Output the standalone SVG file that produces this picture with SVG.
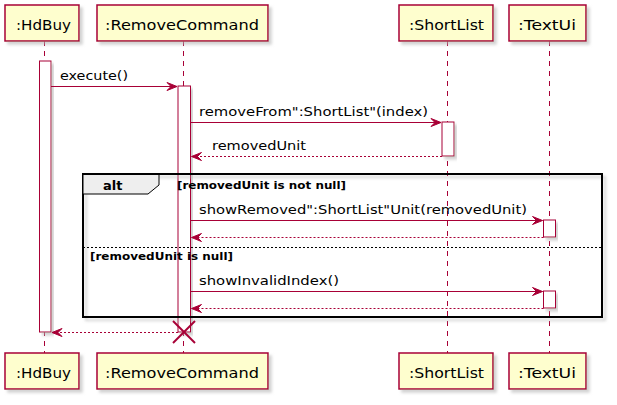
<svg xmlns="http://www.w3.org/2000/svg" width="617" height="405" viewBox="0 0 617 405">
<defs>
<filter id="sh" x="-10%" y="-10%" width="130%" height="140%">
<feGaussianBlur in="SourceAlpha" stdDeviation="1.8"/>
<feOffset dx="3" dy="3" result="b"/>
<feColorMatrix in="b" type="matrix" values="0 0 0 0 0.45  0 0 0 0 0.45  0 0 0 0 0.45  0 0 0 0.6 0" result="c"/>
<feMerge><feMergeNode in="c"/><feMergeNode in="SourceGraphic"/></feMerge>
</filter>
<marker id="ah" markerWidth="12" markerHeight="10" refX="10" refY="4" orient="auto" markerUnits="userSpaceOnUse" overflow="visible">
<polygon points="0,0 10,4 0,8 4,4" fill="#A80036" stroke="#A80036" stroke-width="1"/>
</marker>
</defs>
<style>
.box{fill:#FEFECE;stroke:#A80036;stroke-width:1.5;filter:url(#sh)}
.pt{font-family:"DejaVu Sans",sans-serif;font-size:14.5px;fill:#000}
.life{stroke:#A80036;stroke-width:1;stroke-dasharray:5,5}
.act{fill:#FFFFFF;stroke:#A80036;stroke-width:1;filter:url(#sh)}
.msg{stroke:#A80036;stroke-width:1;fill:none;marker-end:url(#ah)}
.ret{stroke:#A80036;stroke-width:1;fill:none;stroke-dasharray:2,2;marker-end:url(#ah)}
.mt{font-family:"DejaVu Sans",sans-serif;font-size:13px;fill:#000}
.gt{font-family:"DejaVu Sans",sans-serif;font-size:11px;font-weight:bold;fill:#000}
</style>
<g id="lifelines">
<line class="life" x1="44.5" y1="41" x2="44.5" y2="353"/>
<line class="life" x1="183.5" y1="41" x2="183.5" y2="353"/>
<line class="life" x1="447.5" y1="41" x2="447.5" y2="353"/>
<line class="life" x1="549.5" y1="41" x2="549.5" y2="353"/>
</g>
<g id="HdBuy">
<rect class="box" x="5" y="5" width="74" height="36"/>
<text class="pt" x="16" y="30" textLength="55" lengthAdjust="spacingAndGlyphs">:HdBuy</text>
<rect class="box" x="5" y="353" width="74" height="36"/>
<text class="pt" x="16" y="378" textLength="55" lengthAdjust="spacingAndGlyphs">:HdBuy</text>
<rect class="act" x="39.5" y="61" width="11.5" height="271"/>
</g>
<g id="RemoveCommand">
<rect class="box" x="97" y="5" width="171" height="36"/>
<text class="pt" x="105" y="30" textLength="154" lengthAdjust="spacingAndGlyphs">:RemoveCommand</text>
<rect class="box" x="97" y="353" width="171" height="36"/>
<text class="pt" x="105" y="378" textLength="154" lengthAdjust="spacingAndGlyphs">:RemoveCommand</text>
<rect class="act" x="178" y="86" width="12.5" height="246"/>
</g>
<g id="ShortList">
<rect class="box" x="399" y="5" width="94" height="36"/>
<text class="pt" x="409" y="30" textLength="75" lengthAdjust="spacingAndGlyphs">:ShortList</text>
<rect class="box" x="399" y="353" width="94" height="36"/>
<text class="pt" x="409" y="378" textLength="75" lengthAdjust="spacingAndGlyphs">:ShortList</text>
<rect class="act" x="442" y="122" width="12" height="34"/>
</g>
<g id="TextUi">
<rect class="box" x="509" y="5" width="77" height="36"/>
<text class="pt" x="518" y="30" textLength="58" lengthAdjust="spacingAndGlyphs">:TextUi</text>
<rect class="box" x="509" y="353" width="77" height="36"/>
<text class="pt" x="518" y="378" textLength="58" lengthAdjust="spacingAndGlyphs">:TextUi</text>
<rect class="act" x="543.5" y="220" width="12" height="17"/>
<rect class="act" x="543.5" y="291" width="12" height="17"/>
</g>
<g id="alt-frame">
<rect x="83" y="174" width="519" height="143" fill="none" stroke="#000" stroke-width="2" filter="url(#sh)"/>
<polygon points="83,174 159,174 159,185 148,194 83,194" fill="#EEEEEE" stroke="#000" stroke-width="1"/>
<rect x="83" y="173" width="519" height="2" fill="#000"/>
<text x="103" y="190" font-family="DejaVu Sans, sans-serif" font-size="13" font-weight="bold">alt</text>
<text class="gt" x="177" y="189" textLength="169" lengthAdjust="spacingAndGlyphs">[removedUnit is not null]</text>
<line x1="83" y1="247.5" x2="602" y2="247.5" stroke="#000" stroke-width="1" stroke-dasharray="2,2"/>
<text class="gt" x="90" y="260" textLength="143" lengthAdjust="spacingAndGlyphs">[removedUnit is null]</text>
</g>
<g id="connectors">
<line class="msg" x1="51" y1="86.5" x2="177" y2="86.5"/>
<text class="mt" x="60" y="80" textLength="68" lengthAdjust="spacingAndGlyphs">execute()</text>
<line class="msg" x1="190.5" y1="122.5" x2="441" y2="122.5"/>
<text class="mt" x="199" y="116" textLength="229" lengthAdjust="spacingAndGlyphs">removeFrom":ShortList"(index)</text>
<line class="ret" x1="442" y1="156.5" x2="191.5" y2="156.5"/>
<text class="mt" x="212" y="150" textLength="94" lengthAdjust="spacingAndGlyphs">removedUnit</text>
<line class="msg" x1="190.5" y1="220.5" x2="542.5" y2="220.5"/>
<text class="mt" x="199" y="214" textLength="328" lengthAdjust="spacingAndGlyphs">showRemoved":ShortList"Unit(removedUnit)</text>
<line class="ret" x1="543.5" y1="237.5" x2="191.5" y2="237.5"/>
<line class="msg" x1="190.5" y1="291.5" x2="542.5" y2="291.5"/>
<text class="mt" x="199" y="285" textLength="140" lengthAdjust="spacingAndGlyphs">showInvalidIndex()</text>
<line class="ret" x1="543.5" y1="308.5" x2="191.5" y2="308.5"/>
<line class="ret" x1="178" y1="332.5" x2="52" y2="332.5"/>
<g stroke="#A80036" stroke-width="2">
<line x1="173" y1="321" x2="195" y2="343"/>
<line x1="195" y1="321" x2="173" y2="343"/>
</g>
</g>
</svg>
